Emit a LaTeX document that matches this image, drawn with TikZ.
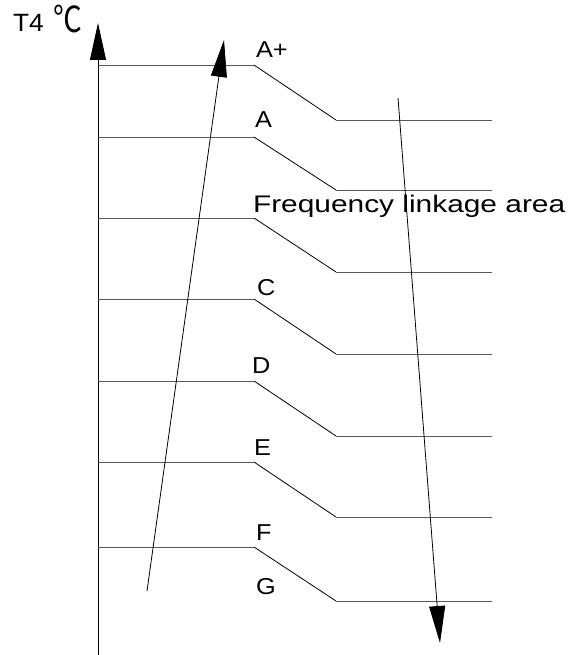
\documentclass[tikz,border=0pt]{standalone}
\usepackage{fontspec}
\setmainfont{Liberation Sans}
\newfontfamily\degfont{Noto Sans CJK SC}
\usetikzlibrary{arrows.meta}
\tikzset{
  hline/.style={draw=black!65, line width=0.9pt},
  dline/.style={draw=black, line width=0.8pt},
  bigarrow/.style={draw=black, line width=0.8pt, -{Triangle[length=37pt,width=16pt]}},
  lbl/.style={anchor=base west, inner sep=0pt, outer sep=0pt, font=\fontsize{23}{26}\selectfont},
}
\begin{document}
\begin{tikzpicture}[x=1pt,y=-1pt]
\useasboundingbox (0,0) rectangle (567,655);
% axis
\coordinate (ax0) at (98,655);
\coordinate (ax1) at (98,23);
\draw[bigarrow] (ax0) -- (ax1);
% rows
\foreach \i/\ya/\yb in {1/65/120, 2/137/190, 3/218/272, 4/299/354, 5/381/436, 6/462/517, 7/547/601}{
  \coordinate (l\i) at (98,\ya);
  \coordinate (k\i) at (254,\ya);
  \coordinate (m\i) at (336,\yb);
  \coordinate (r\i) at (492,\yb);
  \draw[hline] (l\i) -- (k\i);
  \draw[dline] (k\i) -- (m\i);
  \draw[hline] (m\i) -- (r\i);
}
% arrows
\coordinate (u0) at (147,591);
\coordinate (u1) at (224,40);
\draw[bigarrow] (u0) -- (u1);
\coordinate (d0) at (398,98);
\coordinate (d1) at (440,643);
\draw[bigarrow] (d0) -- (d1);
% labels
\node[lbl, font=\fontsize{25}{28}\selectfont] (t4) at (13,32) {\scalebox{1.05}[1]{T4}};
\node[anchor=base west, inner sep=0pt] (deg) at (53,33) {\fontsize{24}{28}\degfont\selectfont\scalebox{1.2}[1.5]{℃}};
\node[lbl] (aplus) at (256,58) {\scalebox{1.1}[1]{A+}};
\node[lbl] (a) at (255,128) {\scalebox{1.1}[1]{A}};
\node[lbl, font=\fontsize{24}{28}\selectfont] (freq) at (253,212) {\scalebox{1.245}[1]{Frequency linkage area}};
\node[lbl] (c) at (257,295) {\scalebox{1.1}[1]{C}};
\node[lbl] (d) at (252,373) {\scalebox{1.1}[1]{D}};
\node[lbl] (e) at (254,455) {\scalebox{1.1}[1]{E}};
\node[lbl] (f) at (256,540) {\scalebox{1.1}[1]{F}};
\node[lbl] (g) at (256,594) {\scalebox{1.1}[1]{G}};
\end{tikzpicture}
\end{document}
